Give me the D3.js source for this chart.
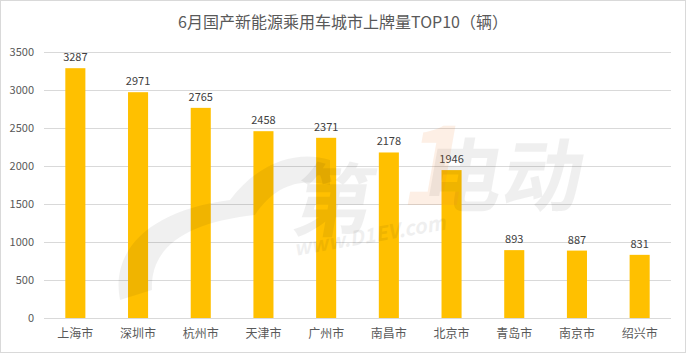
<!DOCTYPE html>
<html>
<head>
<meta charset="utf-8">
<script src="https://cdn.jsdelivr.net/npm/d3@7"></script>
<style>
  body { margin: 0; background: #fff; }
  text { font-family: "Noto Sans CJK SC", "Liberation Sans", sans-serif; }
</style>
</head>
<body>
<script>
// chart data
var cities = ["上海市", "深圳市", "杭州市", "天津市", "广州市", "南昌市", "北京市", "青岛市", "南京市", "绍兴市"];
var counts = [3287, 2971, 2765, 2458, 2371, 2178, 1946, 893, 887, 831];
var yTicks = [0, 500, 1000, 1500, 2000, 2500, 3000, 3500];
var title = "6月国产新能源乘用车城市上牌量TOP10（辆）";

var W = 686, H = 354;
var margin = {top: 52, right: 15, bottom: 36, left: 44};

var svg = d3.select("body").append("svg")
    .attr("width", W)
    .attr("height", H);

// outer border
svg.append("rect")
    .attr("x", 0.5).attr("y", 0.5)
    .attr("width", W - 1).attr("height", H - 2)
    .attr("fill", "#fff")
    .attr("stroke", "#d9d9d9");

var x = d3.scaleBand()
    .domain(cities)
    .range([margin.left, W - margin.right])
    .paddingInner(0.68)
    .paddingOuter(0.34);

var y = d3.scaleLinear()
    .domain([0, 3500])
    .range([H - margin.bottom, margin.top]);

// gridlines
svg.append("g")
    .selectAll("line")
    .data(yTicks)
    .enter().append("line")
    .attr("x1", margin.left)
    .attr("x2", W - margin.right)
    .attr("y1", function(d) { return Math.round(y(d)) + 0.5; })
    .attr("y2", function(d) { return Math.round(y(d)) + 0.5; })
    .attr("stroke", "#d9d9d9")
    .attr("stroke-width", 1);

// y axis labels
var yAxis = d3.axisLeft(y).tickValues(yTicks).tickFormat(d3.format("d")).tickSize(0).tickPadding(10);
var gy = svg.append("g")
    .attr("transform", "translate(" + margin.left + ",0)")
    .call(yAxis);
gy.select(".domain").remove();
gy.selectAll("text")
    .attr("fill", "#595959")
    .style("font-size", "11px");

// x axis labels
var xAxis = d3.axisBottom(x).tickSize(0).tickPadding(11);
var gx = svg.append("g")
    .attr("transform", "translate(0," + (H - margin.bottom) + ")")
    .call(xAxis);
gx.select(".domain").remove();
gx.selectAll("text")
    .attr("fill", "#595959")
    .style("font-size", "12px");

// bars
svg.append("g")
    .selectAll("rect")
    .data(counts)
    .enter().append("rect")
    .attr("x", function(d, i) { return x(cities[i]); })
    .attr("y", function(d) { return y(d); })
    .attr("width", x.bandwidth())
    .attr("height", function(d) { return y(0) - y(d); })
    .attr("fill", "#ffc000");

// value labels
svg.append("g")
    .selectAll("text")
    .data(counts)
    .enter().append("text")
    .attr("x", function(d, i) { return x(cities[i]) + x.bandwidth() / 2; })
    .attr("y", function(d) { return y(d) - 7; })
    .attr("text-anchor", "middle")
    .attr("fill", "#404040")
    .style("font-size", "11px")
    .text(function(d) { return d; });

// faint watermark
var wm = svg.append("g")
    .attr("pointer-events", "none");
wm.append("path")
    .attr("d", "M120,300 C110,250 150,210 230,200 C260,160 300,150 330,160 L330,185 C300,178 275,185 255,215 C190,222 150,245 152,290 Z")
    .attr("fill", "#000")
    .attr("opacity", 0.06);
wm.append("text")
    .attr("x", 330).attr("y", 230)
    .attr("transform", "skewX(-10)")
    .attr("fill", "#000")
    .attr("opacity", 0.06)
    .style("font-size", "80px")
    .style("font-weight", "bold")
    .text("第");
wm.append("text")
    .attr("x", 455).attr("y", 205)
    .attr("transform", "skewX(-10)")
    .attr("fill", "#000")
    .attr("opacity", 0.06)
    .style("font-size", "80px")
    .style("font-weight", "bold")
    .text("电动");
wm.append("text")
    .attr("x", 435).attr("y", 205)
    .attr("transform", "skewX(-10)")
    .attr("fill", "#f08030")
    .attr("opacity", 0.12)
    .style("font-size", "110px")
    .style("font-weight", "bold")
    .text("1");
wm.append("text")
    .attr("x", 295).attr("y", 256)
    .attr("transform", "rotate(-10 295 256)")
    .attr("fill", "#000")
    .attr("opacity", 0.06)
    .style("font-size", "20px")
    .style("font-style", "italic")
    .style("font-weight", "bold")
    .text("www.D1EV.com");

// title
svg.append("text")
    .attr("x", W / 2)
    .attr("y", 28)
    .attr("text-anchor", "middle")
    .attr("fill", "#595959")
    .style("font-size", "16px")
    .text(title);
</script>
</body>
</html>
